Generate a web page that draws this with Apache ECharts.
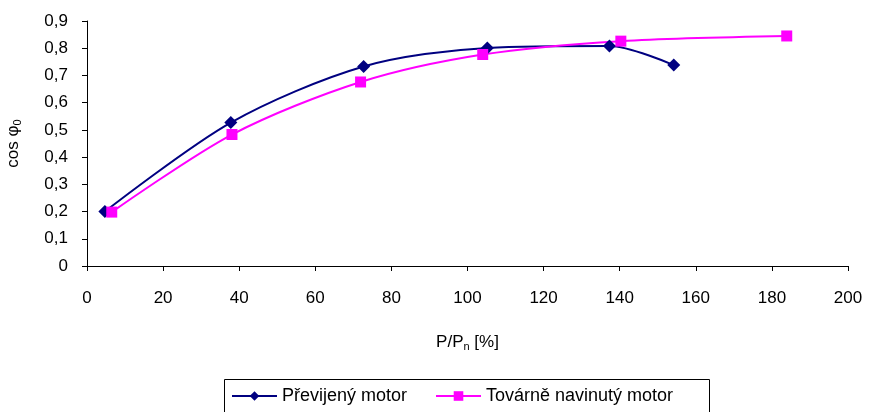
<!DOCTYPE html>
<html><head><meta charset="utf-8">
<script src="https://cdn.jsdelivr.net/npm/echarts@6/dist/echarts.min.js"></script>
<style>html,body{margin:0;padding:0;background:#fff}#c{width:870px;height:412px}</style>
</head><body><div id="c"></div>
<script>
const seriesNames = ['Převijený motor', 'Továrně navinutý motor'];
const prevX = [4.7, 37.8, 72.7, 105.2, 137.3, 154.2];
const prevY = [0.200, 0.527, 0.733, 0.801, 0.808, 0.738];
const tovX = [6.5, 38.1, 71.9, 104.0, 140.3, 183.9];
const tovY = [0.198, 0.483, 0.676, 0.777, 0.826, 0.845];
const xTicks = {min: 0, max: 200, interval: 20};
const yTicks = {min: 0, max: 0.9, interval: 0.1};

const FONT = '"Liberation Sans", Arial, sans-serif';
const zip = (xs, ys) => xs.map((x, i) => [x, ys[i]]);
const legendBase = {
  top: 387, padding: 0, itemWidth: 45, itemHeight: 12,
  textStyle: {fontFamily: FONT, fontSize: 18, color: '#000'}
};
const chart = echarts.init(document.getElementById('c'));
chart.setOption({
  animation: false,
  textStyle: {fontFamily: FONT},
  grid: {left: 87, right: 22, top: 21, bottom: 146, containLabel: false, outerBoundsMode: 'none'},
  graphic: [{
    type: 'rect', left: 222, top: 377, z: 0, silent: true,
    shape: {width: 485, height: 40},
    style: {fill: 'none', stroke: '#000', lineWidth: 1}
  }],
  legend: [
    Object.assign({}, legendBase, {left: 231, data: [seriesNames[0]]}),
    Object.assign({}, legendBase, {left: 435, data: [seriesNames[1]]})
  ],
  xAxis: {
    type: 'value', min: xTicks.min, max: xTicks.max, interval: xTicks.interval,
    name: 'P/P{sub|n} [%]', nameLocation: 'middle', nameGap: 66,
    nameTextStyle: {fontSize: 17, color: '#000', fontFamily: FONT,
      rich: {sub: {fontSize: 11, verticalAlign: 'bottom', padding: [9, 0, 0, 0], color: '#000', fontFamily: FONT}}},
    splitLine: {show: false},
    axisLine: {lineStyle: {color: '#000', width: 1}},
    axisTick: {inside: false, length: 5, lineStyle: {color: '#000'}},
    axisLabel: {fontSize: 17, color: '#000', margin: 24, fontFamily: FONT}
  },
  yAxis: {
    type: 'value', min: yTicks.min, max: yTicks.max, interval: yTicks.interval,
    name: 'cos φ{sub|0}', nameLocation: 'middle', nameGap: 64, nameRotate: 90,
    nameTextStyle: {fontSize: 17, color: '#000', fontFamily: FONT,
      rich: {sub: {fontSize: 11, verticalAlign: 'bottom', padding: [9, 0, 0, 0], color: '#000', fontFamily: FONT}}},
    splitLine: {show: false},
    axisLine: {show: true, lineStyle: {color: '#000', width: 1}},
    axisTick: {show: true, inside: false, length: 5, lineStyle: {color: '#000'}},
    axisLabel: {fontSize: 17, color: '#000', margin: 19, fontFamily: FONT,
      formatter: v => v === 0 ? '0' : v.toFixed(1).replace('.', ',')}
  },
  series: [
    {name: seriesNames[0], type: 'line', data: zip(prevX, prevY), smooth: 0.3,
     symbol: 'diamond', symbolSize: 13,
     lineStyle: {color: '#000080', width: 2}, itemStyle: {color: '#000080'}},
    {name: seriesNames[1], type: 'line', data: zip(tovX, tovY), smooth: 0.3,
     symbol: 'rect', symbolSize: 11,
     lineStyle: {color: '#FF00FF', width: 2}, itemStyle: {color: '#FF00FF'}}
  ]
});
</script></body></html>
